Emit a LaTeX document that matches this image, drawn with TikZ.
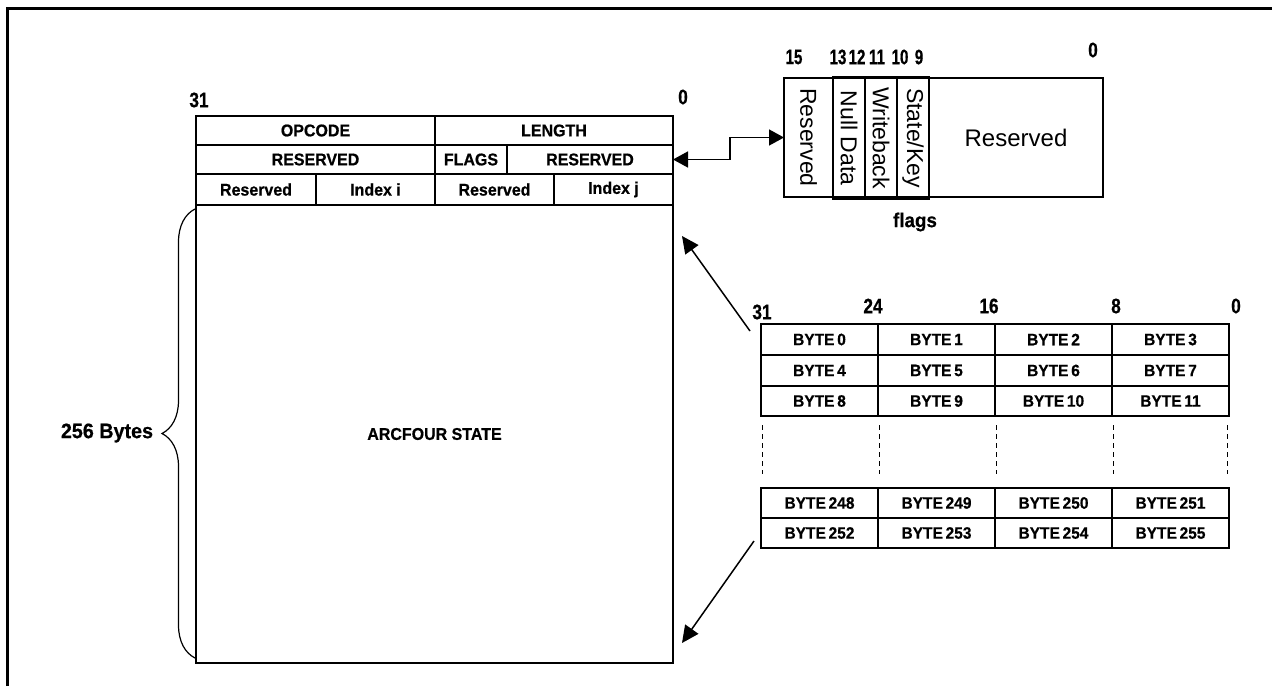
\documentclass[tikz,border=0pt]{standalone}
\usepackage{fontspec}
\setmainfont{Liberation Sans}
\newfontfamily\bitfont[FakeStretch=0.82,FakeBold=0.6]{Liberation Sans}
\newfontfamily\fbitfont[FakeStretch=0.72,FakeBold=0.6]{Liberation Sans}
\newfontfamily\tightfont[FakeStretch=0.94,FakeBold=0.6]{Liberation Sans}
\usetikzlibrary{arrows.meta,decorations.pathreplacing}
\begin{document}
\begin{tikzpicture}[x=1pt,y=-1pt,
  cell/.style={draw, line width=1.8pt, inner sep=0pt, outer sep=0pt, font=\tightfont\fontsize{17}{19}\selectfont\bfseries},
  bcell/.style={cell, minimum width=117pt, font=\tightfont\fontsize{16.5}{18}\selectfont\bfseries},
  vcell/.style={draw, line width=1.8pt, inner sep=0pt, outer sep=0pt, rotate=-90, minimum width=119pt, font=\fontsize{23}{25}\selectfont},
  bit/.style={inner sep=0pt, font=\bitfont\fontsize{21}{23}\selectfont\bfseries},
  fbit/.style={inner sep=0pt, font=\fbitfont\fontsize{21}{23}\selectfont\bfseries},
  arr/.style={line width=1.5pt, -{Triangle[length=17pt,width=16pt]}},
  vdash/.style={line width=1pt, dash pattern=on 5pt off 4pt}]
\useasboundingbox (0,0) rectangle (1272,686);
% outer frame
\draw[line width=3.5pt] (7.5,686) -- (7.5,8.5) -- (1272,8.5);

% ---------- main table ----------
\node[bit] (m31) at (199,100) {31};
\node[bit] (m0) at (683,97) {0};
\node[cell, minimum width=239pt, minimum height=29pt] (opc) at (315.5,130.5) {OPCODE};
\node[cell, minimum width=238pt, minimum height=29pt] (len) at (554,130.5) {LENGTH};
\node[cell, minimum width=239pt, minimum height=29pt] (r2a) at (315.5,159.5) {RESERVED};
\node[cell, minimum width=72pt, minimum height=29pt] (flg) at (471,159.5) {FLAGS};
\node[cell, minimum width=166pt, minimum height=29pt] (r2c) at (590,159.5) {RESERVED};
\node[cell, minimum width=120pt, minimum height=31pt] (r3a) at (256,189.5) {Reserved};
\node[cell, minimum width=119pt, minimum height=31pt] (r3b) at (375.5,189.5) {Index i};
\node[cell, minimum width=119pt, minimum height=31pt] (r3c) at (494.5,189.5) {Reserved};
\node[cell, minimum width=119pt, minimum height=31pt] (r3d) at (613.5,189.5) {Index j};
\node[cell, minimum width=477pt, minimum height=458pt] (arc) at (434.5,434) {ARCFOUR STATE};

% brace
\draw[line width=1.2pt, decorate, decoration={brace, amplitude=33pt}] (195,658) -- (195,209);
\node[inner sep=0pt, font=\tightfont\fontsize{21}{23}\selectfont\bfseries] (bytes) at (107,433) {256 Bytes};

% ---------- flags ----------
\node[fbit] (f15) at (794,57) {15};
\node[fbit] (f13) at (838,57) {13};
\node[fbit] (f12) at (857,57) {12};
\node[fbit] (f11) at (877,57) {11};
\node[fbit] (f10) at (900,57) {10};
\node[fbit] (f9) at (919,57) {9};
\node[bit] (f0) at (1093,50) {0};
\node[draw, line width=1.8pt, inner sep=0pt, outer sep=0pt, minimum width=319pt, minimum height=119pt] (flagbox) at (943.5,137.5) {};
\node[vcell, minimum height=49pt] (fa) at (808.5,137.5) {Reserved};
\node[vcell, minimum height=32pt, minimum width=122pt] (fb) at (849,138) {Null Data};
\node[vcell, minimum height=32pt, minimum width=122pt] (fc) at (881,138) {Writeback};
\node[vcell, minimum height=32pt, minimum width=122pt] (fd) at (913,138) {State/Key};
\node[draw, line width=1.8pt, inner sep=0pt, minimum width=174pt, minimum height=119pt, font=\fontsize{24}{26}\selectfont] (fe) at (1016,137.5) {Reserved};
\node[inner sep=0pt, font=\tightfont\fontsize{20}{22}\selectfont\bfseries] (flagslbl) at (915,222) {flags};

\coordinate (elbow) at (730,0);
\draw[line width=1.5pt, {Triangle[length=15pt,width=16pt]}-{Triangle[length=15pt,width=16pt]}]
  (r2c.east) -- (r2c.east -| elbow) |- (flagbox.west);

% ---------- byte table ----------
\node[bit] (b31) at (762,312) {31};
\node[bit] (b24) at (873,306) {24};
\node[bit] (b16) at (989,306) {16};
\node[bit] (b8l) at (1116,306) {8};
\node[bit] (b0l) at (1236,306) {0};
\foreach \r/\y/\h in {0/339.5/31, 1/370.5/31, 2/401/30}{
  \foreach \c/\x in {0/819.5, 1/936.5, 2/1053.5, 3/1170.5}{
    \pgfmathtruncatemacro{\n}{4*\r+\c}
    \node[bcell, minimum height=\h pt] (b\n) at (\x,\y) {BYTE\,\n};
  }
}
\foreach \r/\y in {0/503, 1/533}{
  \foreach \c/\x in {0/819.5, 1/936.5, 2/1053.5, 3/1170.5}{
    \pgfmathtruncatemacro{\n}{248+4*\r+\c}
    \node[bcell, minimum height=30pt] (b\n) at (\x,\y) {BYTE\,\n};
  }
}
\foreach \x in {762,879,996,1113,1227}{
  \draw[vdash] (\x,425) -- (\x,474);
}

% arrows to ARCFOUR state
\coordinate (ua) at (750,331);
\coordinate (ut) at (682,236);
\coordinate (la) at (754,541);
\coordinate (lt) at (682,643);
\draw[arr] (ua) -- (ut);
\draw[arr] (la) -- (lt);
\end{tikzpicture}
\end{document}
